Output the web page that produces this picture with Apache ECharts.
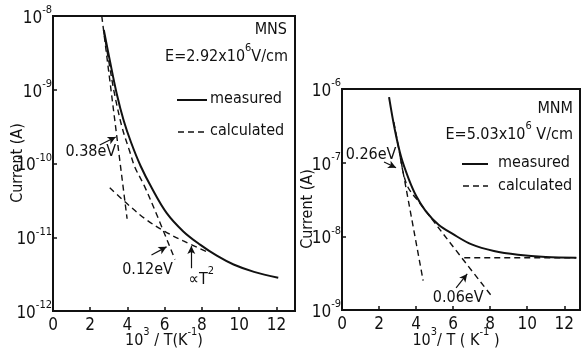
<!DOCTYPE html>
<html>
<head>
<meta charset="utf-8">
<script src="https://cdn.jsdelivr.net/npm/echarts@6.0.0/dist/echarts.min.js"></script>
<style>
  html, body { margin: 0; padding: 0; background: #fff; }
  #chart { width: 587px; height: 358px; }
</style>
</head>
<body>
<div id="chart"></div>
<script>
// ---- MNS panel (left): current vs 10^3/T ----
const mnsMeasuredX = [2.73, 3.05, 3.42, 3.8, 4.2, 4.7, 5.3, 6.1, 7.0, 7.9, 8.8, 9.7, 10.8, 12.1];
const mnsMeasuredI = [6.46e-9, 2.51e-9, 8.91e-10, 3.80e-10, 1.91e-10, 9.33e-11, 4.68e-11, 2.14e-11, 1.20e-11, 7.94e-12, 5.62e-12, 4.27e-12, 3.39e-12, 2.82e-12];
const mnsCalcX = [2.72, 3.0, 3.3, 3.7, 4.1, 4.4, 4.9, 5.5, 6.55];
const mnsCalcI = [6.31e-9, 2.40e-9, 8.91e-10, 3.16e-10, 1.51e-10, 8.91e-11, 5.01e-11, 2.24e-11, 5.01e-12];
const mnsSteepX = [2.62, 3.98];
const mnsSteepI = [1.0e-8, 1.78e-11];
const mnsT2X = [3.05, 4.0, 5.0, 6.0, 7.0, 8.3];
const mnsT2I = [4.68e-11, 2.82e-11, 1.74e-11, 1.20e-11, 8.91e-12, 6.31e-12];

// ---- MNM panel (right) ----
const mnmMeasuredX = [2.54, 2.85, 3.19, 3.6, 4.0, 4.5, 5.2, 6.0, 7.0, 8.2, 9.5, 11.0, 12.65];
const mnmMeasuredI = [7.76e-7, 2.82e-7, 1.20e-7, 6.03e-8, 3.55e-8, 2.24e-8, 1.45e-8, 1.07e-8, 7.76e-9, 6.31e-9, 5.62e-9, 5.25e-9, 5.13e-9];
const mnmSteepX = [2.8, 4.38];
const mnmSteepI = [3.55e-7, 2.51e-9];
const mnmSlopeX = [3.15, 3.5, 4.2, 6.43, 8.05];
const mnmSlopeI = [1.17e-7, 5.01e-8, 2.82e-8, 5.25e-9, 1.58e-9];
const mnmFlatX = [6.6, 12.65];
const mnmFlatI = [5.13e-9, 5.13e-9];

// tick labels
const xTickLabels = ['0', '2', '4', '6', '8', '10', '12'];
const mnsDecades = [-12, -11, -10, -9, -8];
const mnmDecades = [-9, -8, -7, -6];

// activation-energy annotations (data units)
const mnsNotes = [
  { text: '{b|0.38eV}', at: [2.03, 1.45e-10], from: [2.51, 1.78e-10], to: [3.37, 2.29e-10] },
  { text: '{b|0.12eV}', at: [5.08, 3.63e-12], from: [5.29, 5.75e-12], to: [6.1, 7.41e-12] },
  { text: '{b|\u221DT}{s|2}', at: [7.97, 2.88e-12], from: [7.43, 3.80e-12], to: [7.43, 7.59e-12] }
];
const mnmNotes = [
  { text: '{b|0.26eV}', at: [1.57, 1.26e-7], from: [2.27, 1.02e-7], to: [2.92, 8.51e-8] },
  { text: '{b|0.06eV}', at: [6.27, 1.45e-9], from: [6.16, 2.0e-9], to: [6.76, 3.09e-9] }
];

const FONT = "'DejaVu Sans Condensed', 'Liberation Sans Narrow', 'Liberation Sans', sans-serif";
const INK = '#111';

const zip = (xs, ys) => xs.map((x, i) => [x, ys[i]]);

// rich styles: "b" = body text, "s" = raised exponent
function supRich(size, key) {
  const b = { fontFamily: FONT, fontSize: size, lineHeight: size, verticalAlign: 'bottom' };
  const s = { fontFamily: FONT, fontSize: 11, lineHeight: 22, verticalAlign: 'top', padding: [0, 0, 11, 0] };
  b[key] = INK; s[key] = INK;
  return { b, s };
}

function xAxisCfg(gridIndex, max) {
  return {
    type: 'value', gridIndex, min: 0, max, interval: 2,
    axisLine: { show: true, lineStyle: { color: INK, width: 2 } },
    axisTick: { show: true, inside: true, length: 4, lineStyle: { color: INK, width: 1.5 } },
    axisLabel: {
      margin: 6, fontFamily: FONT, fontSize: 17, color: INK,
      formatter: v => (xTickLabels.indexOf(String(v)) >= 0 ? String(v) : '')
    },
    splitLine: { show: false }
  };
}

function yAxisCfg(gridIndex, decades) {
  return {
    type: 'log', logBase: 10, gridIndex,
    min: Math.pow(10, decades[0]), max: Math.pow(10, decades[decades.length - 1]),
    axisLine: { show: true, lineStyle: { color: INK, width: 2 } },
    axisTick: { show: true, inside: true, length: 4, lineStyle: { color: INK, width: 1.5 } },
    axisLabel: {
      margin: 1, color: INK,
      formatter: v => '{b|10}{s|' + Math.round(Math.log10(v)) + '}',
      rich: supRich(17, 'color')
    },
    splitLine: { show: false }
  };
}

function curve(name, xi, yi, xs, ys, dashed, smooth) {
  return {
    name, type: 'line', xAxisIndex: xi, yAxisIndex: yi,
    data: zip(xs, ys), showSymbol: false, smooth: smooth ? 0.35 : false,
    silent: true,
    lineStyle: { color: INK, width: dashed ? 1.4 : 2, type: dashed ? [6, 4] : 'solid' },
    z: dashed ? 3 : 4
  };
}

function notes(xi, yi, list) {
  return {
    type: 'scatter', xAxisIndex: xi, yAxisIndex: yi, silent: true,
    symbolSize: 0, itemStyle: { color: INK },
    data: list.map(n => ({ value: n.at, name: n.text })),
    label: {
      show: true, position: 'inside', color: INK, opacity: 1,
      formatter: p => p.name, rich: supRich(16, 'color')
    },
    markLine: {
      silent: true, symbol: ['none', 'arrow'], symbolSize: [6, 8],
      label: { show: false },
      lineStyle: { color: INK, width: 1.2, type: 'solid' },
      data: list.map(n => [{ coord: n.from }, { coord: n.to }])
    }
  };
}

function txt(x, y, text, align, extra) {
  return Object.assign({
    type: 'text', x, y, silent: true,
    style: {
      text, fill: INK, fontFamily: FONT, fontSize: 16,
      align, textAlign: align, verticalAlign: 'middle', textVerticalAlign: 'middle',
      rich: supRich(16, 'fill')
    }
  }, extra || {});
}

function seg(x1, y1, x2, y2, dashed) {
  return {
    type: 'line', silent: true,
    shape: { x1, y1, x2, y2 },
    style: { stroke: INK, lineWidth: dashed ? 1.4 : 2, lineDash: dashed ? [6, 4] : null }
  };
}

const chart = echarts.init(document.getElementById('chart'), null, { renderer: 'canvas' });

chart.setOption({
  backgroundColor: '#fff',
  animation: false,
  grid: [
    { left: 53, top: 16, width: 242, height: 295, show: true, borderColor: INK, borderWidth: 2, backgroundColor: 'transparent' },
    { left: 342, top: 89, width: 238, height: 221, show: true, borderColor: INK, borderWidth: 2, backgroundColor: 'transparent' }
  ],
  xAxis: [xAxisCfg(0, 13), xAxisCfg(1, 12.85)],
  yAxis: [yAxisCfg(0, mnsDecades), yAxisCfg(1, mnmDecades)],
  series: [
    curve('measured', 0, 0, mnsMeasuredX, mnsMeasuredI, false, true),
    curve('calculated', 0, 0, mnsCalcX, mnsCalcI, true, true),
    curve('calculated 0.38eV', 0, 0, mnsSteepX, mnsSteepI, true, false),
    curve('calculated T2', 0, 0, mnsT2X, mnsT2I, true, true),
    notes(0, 0, mnsNotes),
    curve('measured', 1, 1, mnmMeasuredX, mnmMeasuredI, false, true),
    curve('calculated 0.26eV', 1, 1, mnmSteepX, mnmSteepI, true, false),
    curve('calculated 0.06eV', 1, 1, mnmSlopeX, mnmSlopeI, true, true),
    curve('calculated flat', 1, 1, mnmFlatX, mnmFlatI, true, false),
    notes(1, 1, mnmNotes)
  ],
  graphic: [
    // MNS legend block
    txt(287, 30, '{b|MNS}', 'right'),
    txt(288, 54, '{b|E=2.92x10}{s|6}{b|V/cm}', 'right'),
    seg(177, 100, 207, 100, false),
    txt(210, 99, '{b|measured}', 'left'),
    seg(178, 132, 207, 132, true),
    txt(210, 131, '{b|calculated}', 'left'),
    // MNM legend block
    txt(573, 109, '{b|MNM}', 'right'),
    txt(573, 132, '{b|E=5.03x10}{s|6}{b| V/cm}', 'right'),
    seg(462, 164, 488, 164, false),
    txt(498, 163, '{b|measured}', 'left'),
    seg(463, 186, 488, 186, true),
    txt(498, 186, '{b|calculated}', 'left'),
    // axis titles
    txt(18, 163, '{b|Current (A)}', 'center', { rotation: Math.PI / 2 }),
    txt(308, 209, '{b|Current (A)}', 'center', { rotation: Math.PI / 2 }),
    txt(164, 338, '{b|10}{s|3}{b| / T(K}{s|-1}{b|)}', 'center'),
    txt(456, 338, '{b|10}{s|3}{b|/ T ( K}{s|-1}{b| )}', 'center')
  ]
});
</script>
</body>
</html>
